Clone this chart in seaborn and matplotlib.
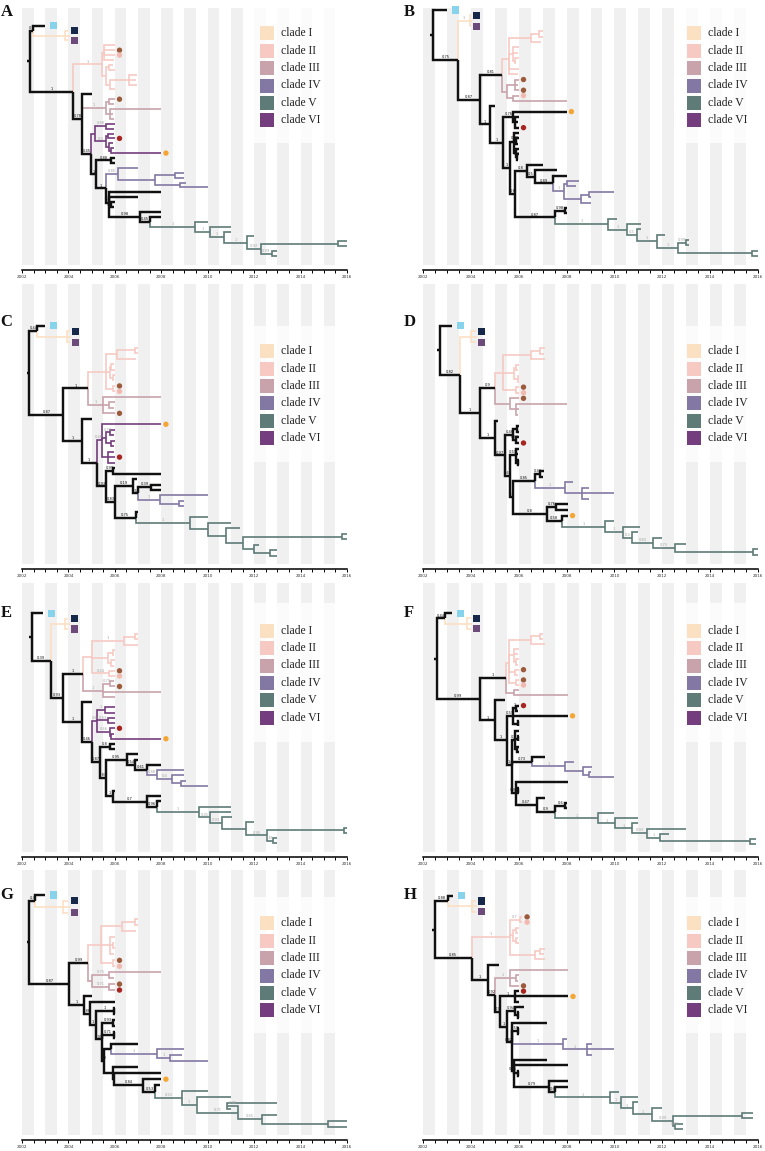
import re
import numpy as np
import pandas as pd
import seaborn as sns
import matplotlib.pyplot as plt
from matplotlib.patches import Rectangle

W, H = 765, 1151

# ---- data -------------------------------------------------------------
CLADE_KEYS = ['1', '2', '3', '4', '5', '6']
CLADE_LABELS = ['clade I', 'clade II', 'clade III', 'clade IV', 'clade V', 'clade VI']
CLADE_COLORS = ['#FCE0C2', '#F7C9C3', '#C9A3AB', '#8378A4', '#5E7B77', '#743D7D']
BACKBONE = '#111111'
MARKER_COLORS = {'sb': '#87D3EC', 'sn': '#16284A', 'sp': '#6C4B7B', 'br': '#9B5A3C',
                 'pk': '#F2B9B0', 'rd': '#A82421', 'or': '#F3A634'}
MARKER_SHAPE = {'sb': 'sq', 'sn': 'sq', 'sp': 'sq', 'br': 'dot', 'pk': 'dot', 'rd': 'dot', 'or': 'dot'}
MARKER_SHIFT = {'sb': 0.35, 'sn': 0.25, 'sp': 0.25, 'br': 0.2, 'pk': 0.2, 'rd': 0.2, 'or': 0.2}
YEARS = [2002, 2004, 2006, 2008, 2010, 2012, 2014, 2016]

# trees: node = (children)time@clade@support@marker ; clade inherited when empty
TREE_A = {
    'root': '({N1},{N2})2002.34@k',
    'N1': '(2003.0@@@sb,(2004.0@@@sn,2004.05,2004.0@@@sp)2003.85@1)2002.49@k@0.9',
    'N2': '({II},{N3})2004.21@k@1',
    'II': '((2006.0,2006.0@@@br,2006.0@@@pk,2005.95)2005.55,((2005.9,2006.0)2005.75,'
          '((2006.95,2006.9,2006.95)2006.6,2006.0)2005.8)2005.62)2005.43@2@1',
    'N3': '(2005.0,{III},{N4})2004.6@k@0.78',
    'III': '((2006.0@@@br,2005.95)2005.75,(2008.0,2005.9,2005.95)2005.8)2005.62@3@1',
    'N4': '({VI},{N5})2004.99@k@0.45',
    'VI': '((2006.0,2005.95)2005.6@@0.88,((2005.95,2006.0@@@rd)2005.7,'
          '(2005.9,(2005.95,2008.0@@@or)2005.85)2005.75)2005.62@@0.5)2005.15@6',
    'N5': '((2006.0,2006.0)2005.85@@0.88,{N7})2005.2@k@1',
    'N7': '({IV},{N8})2005.6@k@1',
    'IV': '(2007.0,((2009.0,2009.0)2008.6,(2009.05,2010.0)2008.8)2007.73)2006.15@4@0.85',
    'N8': '(2008.0,2007.0,(2006.0,2005.95)2005.85,{N10})2005.75@k@0.6',
    'N10': '(2008.0,(2008.0,{V})2007.52@@0.45)2007.1@k@0.98',
    'V': '(2010.0,(2011.0,(2011.0,(2012.0,((2016.0,2016.0)2015.63,(2013.0,2013.0)2012.76@@0.99)'
         '2012.29@@0.92)2011.71@@1)2010.68@@1)2010.1@@1)2009.46@5@1',
}

TREE_B = {
    'root': '(2003.0@k@@sb,{N1})2002.43@k',
    'N1': '((2004.0@@@sn,2004.05,2004.0@@@sp)2003.96@1@1,{N2})2003.48@k@0.75',
    'N2': '({N3},{N4})2004.38@k@0.87',
    'N3': '({II},{III})2005.29@k@0.81',
    'II': '(((2007.0,2007.0)2006.85,2006.95)2006.5,(2006.0,2005.95,(2006.0,2005.9)2005.85)2005.75,'
          '2006.0,2005.95)2005.6@2',
    'III': '((2006.0@@@br,2005.95,2006.0@@@br)2005.85,(2006.0@@@pk,2008.0)2005.75)2005.5@3',
    'N4': '(2005.0,{N5})2004.8@k@1',
    'N5': '({N6},{N7})2005.36@k@1',
    'N6': '(2008.0@@@or,(2006.0,2005.95,2006.0@@@rd)2005.84)2005.78@k@0.76',
    'N7': '({C1},{N8})2005.63@k@1',
    'C1': '(2006.0,(2006.0,2005.95)2005.9@@0.78,(2006.0,(2006.0,2005.97)2005.92@@0.7)2005.88)2005.8@k',
    'N8': '({X},{N9})2005.84@k@0.8',
    'X': '(2007.0,(2007.6,(2008.0,{IV})2007.45@@0.89)2006.68@@0.5)2006.33@k@0.8',
    'IV': '((2008.5,2008.4)2008.0,((2010.0,2009.0)2008.95,2009.0)2008.6)2007.9@4@1',
    'N9': '((2008.0,2008.0)2007.95@@0.98,{V})2007.5@k@0.87',
    'V': '(2010.1,(2011.1,(2011.1,(2012.1,((2013.1,2013.1)2013.0@@0.99,(2016.15,2016.15)2015.73)'
         '2012.67@@1)2011.76@@1)2010.93@@0.5)2010.54@@1)2009.74@5@1',
}

TREE_C = {
    'root': '({N1},{N2})2002.32@k',
    'N1': '(2003.0@@@sb,(2004.05@@@sn,2004.1,2004.05@@@sp)2003.95@1)2002.66@k@0.44',
    'N2': '({N3},{N4})2003.78@k@0.87',
    'N3': '({II},{III})2004.86@k@1',
    'II': '(((2007.0,2007.0)2006.85,2006.9)2006.1,((2005.95,2006.0)2005.85,(2006.0,2005.95)2005.9)2005.8,'
          '(2006.0@@@br,2006.0@@@pk)2005.9)2005.6@2',
    'III': '(2008.0,(2006.0,2005.95)2005.75,2006.0@@@br)2005.5@3@1',
    'N4': '(2005.0,{N5})2004.57@k@1',
    'N5': '({VI},{N6})2005.22@k@1',
    'VI': '(2008.0@@@or,((2006.0,2005.95)2005.8@@0.72,(2006.0,2005.95)2005.85)2005.6,'
          '(2005.95,2006.0@@@rd,2006.0)2005.72)2005.43@6@0.46',
    'N6': '((2006.0,2008.0)2005.94@@0.99,{N7})2005.62@k@0.93',
    'N7': '({Na},{Nb})2006.0@k@0.83',
    'Na': '(2006.97,((2008.0,2008.0)2007.55@@0.39,{IV})2007.0@@0.56)2006.77@@0.19',
    'IV': '(2010.0,(2009.0,2009.0)2008.75)2007.95@4@1',
    'Nb': '(2007.0,{V})2006.9@@0.75',
    'V': '(2010.0,(2011.0,(2011.4,((2016.0,2016.0)2015.78,(2012.2,(2013.0,2013.0)2012.7)2011.98)'
         '2011.54)2010.8)2010.03)2009.24@5@1',
}

TREE_D = {
    'root': '(2003.2@k@@sb,{N1})2002.71@k',
    'N1': '((2004.2@@@sn,2004.25,2004.2@@@sp)2004.0@1,{N2})2003.55@k@0.82',
    'N2': '({N3},{N4})2004.38@k@1',
    'N3': '({II},{III})2005.0@k@0.9',
    'II': '(((2007.1,2007.05)2006.9,2007.1)2006.5,((2006.0,2005.95)2005.9,(2006.0,2006.0)2005.95)2005.8,'
          '(2006.0@@@br,2006.0@@@pk)2005.9)2005.35@2',
    'III': '(2006.0@@@br,(2008.0,2006.0,2005.97)2005.9)2005.65@3',
    'N4': '(2005.15,{N5})2005.0@k@1',
    'N5': '({Nn},{N6})2005.43@k@0.97',
    'Nn': '((2006.0,2006.0)2005.92,(2006.0,2006.0@@@rd)2005.9@@0.93)2005.78@k@0.46',
    'N6': '((2006.0,2005.97,(2006.0,2006.0)2005.95)2005.88@@0.59,{Q})2005.64@k@0.64',
    'Q': '({M},{P})2005.77@k@0.9',
    'M': '((2007.05,2007.0)2006.9@@0.43,{IV})2006.68@@0.85',
    'IV': '(2008.25,(2008.95,2010.0,2008.95)2008.63)2007.93@4@1',
    'P': '((2008.07,2008.05)2007.55@@0.76,(2008.05@@@or,{V})2007.8@@0.58)2007.17@@0.8',
    'V': '(2010.0,(2011.05,(2011.0,(2012.0,(2013.0,(2016.0,2016.0)2015.8)2012.53@@0.73)2011.62@@0.83)'
         '2010.72@@0.4)2010.37@@1)2009.6@5@1',
}

TREE_E = {
    'root': '(2002.92@k@@sb,{N1})2002.42@k',
    'N1': '((2004.0@@@sn,2004.05,2004.0@@@sp)2003.85@1,{N2})2003.24@k@0.39',
    'N2': '({N3},{N4})2003.78@k@0.93',
    'N3': '({II},{III})2004.61@k@1',
    'II': '(((2007.0,2007.0)2006.85,2007.0)2006.4@@1,((2006.0,2005.95)2005.9,(2006.0,2005.95)2005.85)2005.7,'
          '(2006.0@@@br,2006.0@@@pk)2005.75@@0.44)2005.0@2',
    'III': '((2005.95,2006.0@@@br)2005.8@@0.79,2008.0,2006.0)2005.5@3@1',
    'N4': '(2005.0,{N5})2004.57@k@1',
    'N5': '({VI},{N6})2005.0@k@0.46',
    'VI': '((2006.0,2006.0)2005.58@@1,(2006.0,2006.0)2005.72@@0.93,'
          '(2006.0@@@rd,(2005.95,2008.0@@@or)2005.85)2005.79@@0.66)2005.22@6@0.6',
    'N6': '((2006.0,2006.0)2005.8@@0.8,{N7})2005.36@k@0.87',
    'N7': '({R},{T})2005.62@k@0.83',
    'R': '(2007.0,(2007.0,(2008.0,{IV})2007.37@@0.61)2006.87@@0.54)2006.51@@0.95',
    'IV': '(2009.0,(2009.0,(2009.05,2010.0)2008.85)2008.45@@0.4)2007.8@4@0.88',
    'T': '(2006.0,{S})2005.94@@1',
    'S': '(2008.0,(2008.0,{V})2007.8@@0.96)2007.37@@0.7',
    'V': '(2011.0,(2011.0,(2011.05,(2012.0,((2016.05,2016.05)2015.85,(2013.0,2013.0)2012.83@@0.85)'
         '2012.55@@0.95)2011.65)2010.6@@0.93)2010.1@@0.45)2009.64@5@1',
}

TREE_F = {
    'root': '({N0},{N1})2002.57@k',
    'N0': '(2003.2@@@sb,(2004.0@@@sn,2004.05,2004.0@@@sp)2003.82@1)2002.92@k@0.44',
    'N1': '({N2},{N3})2004.38@k@0.99',
    'N2': '({II},{III})2005.47@k@1',
    'II': '(((2007.0,2007.0)2006.9,2007.1)2006.5,(2006.0,2005.95,(2006.0,2005.95)2005.9)2005.8,'
          '(2006.0@@@br,2005.95)2005.85,(2006.0@@@br,2006.0@@@pk)2005.9)2005.6@2',
    'III': '(2006.0,2008.07)2005.8@3',
    'N3': '(2005.42,{N4})2005.0@k@1',
    'N4': '({Nn},{N5})2005.5@k@1',
    'Nn': '((2006.0@@@rd,2005.95)2005.88@@1,2008.05@@@or,(2006.0,2005.98)2005.95)2005.75@k@0.59',
    'N5': '({Cl},{M},{Q})2005.7@k@1',
    'Cl': '(2006.0,(2006.0,2005.98)2005.95,(2006.0,2006.0)2005.93)2005.85@@0.5',
    'M': '(2007.1,{IV})2006.55@@0.73',
    'IV': '(2008.3,(2009.05,(2009.0,2010.0)2008.95)2008.7)2007.93@4@1',
    'Q': '(2008.07,(2006.0,2006.0)2005.95,{Pb})2005.87@@0.97',
    'Pb': '(2007.1,{Pa})2006.75@@0.47',
    'Pa': '((2008.0,2008.0)2007.95@@0.6,{V})2007.52@@0.9',
    'V': '(2010.0,(2011.0,(2011.0,(2013.0,(2012.3,(2015.9,2015.9)2015.66)2011.9@@1)2011.35@@0.93)'
         '2010.75@@1)2010.02@@1)2009.33@5@1',
}

TREE_G = {
    'root': '({N0},{N1})2002.32@k',
    'N0': '(2003.0@@@sb,(2004.0@@@sn,2004.05,2004.0@@@sp)2003.78@1)2002.56@k@0.3',
    'N1': '({N2},{N3})2004.04@k@0.87',
    'N2': '({II},{III})2004.86@k@0.99',
    'II': '(((2007.0,2007.0)2006.85,2006.9)2006.3,(2006.0,(2005.95,2006.0)2005.9,2005.95)2005.8,'
          '(2006.0@@@br,2006.0@@@pk)2005.9)2005.4@2',
    'III': '((2008.0,2005.95)2005.75@@0.75,(2006.0@@@br,2006.0@@@rd)2005.75@@0.71)2005.0@3',
    'N3': '(2005.0,{N4})2004.67@k@1',
    'N4': '(2006.0,{N5})2004.92@k@0.88',
    'N5': '((2006.0,2006.0)2005.95@@1,{N6})2005.2@k@1',
    'N6': '((2006.0,2006.0)2005.93@@0.93,(2006.0,2006.0)2005.95@@0.71,{N7})2005.45@k@0.93',
    'N7': '((2007.0,{IV})2005.85,(2007.0,(2008.0,{W})2005.95)2005.9)2005.55@k@0.9',
    'IV': '(2009.0,(2008.9,2010.0)2008.38@@1)2007.8@4@1',
    'W': '(2008.0@@@or,(2007.95,{V})2007.75@@0.53)2007.23@@0.84',
    'V': '(2010.0,(2011.0,((2013.0,2011.0)2010.85@@0.85,(2013.0,(2016.0,2016.0)2015.2)2012.33@@0.65)'
         '2011.32@@0.71)2009.53@@1)2008.88@5@0.51',
}

TREE_H = {
    'root': '({N0},{N1})2002.5@k',
    'N0': '(2003.24@@@sb,(2004.2@@@sn,2004.25,2004.2@@@sp)2004.03@1)2003.06@k@0.88',
    'N1': '({II},{N2})2004.03@k@0.85',
    'II': '((2006.15@@@br,2006.15@@@pk)2006.05@@0.7,((2006.0,2005.95)2005.9,(2005.95,2006.0)2005.88)2005.75,'
          '((2007.1,2007.05)2006.9,2007.1)2006.68)2005.63@2@1',
    'N2': '(2005.19,{N3})2004.73@k@1',
    'N3': '({III},{N4})2005.0@k@0.92',
    'III': '(2008.07,(2006.0,2005.95)2005.9,2006.0@@@br)2005.63@3@1',
    'N4': '((2006.0@@@rd,2008.07@@@or,2006.0)2005.84@@1,{N5})2005.22@k@0.9',
    'N5': '((2006.2,(2006.0,2006.0)2005.95)2005.84@@0.94,{N6})2005.5@k@1',
    'N6': '(2007.17,(2006.0,2006.0)2005.95@@0.59,{IV},{Q})2005.7@k@0.82',
    'IV': '(2008.0,(2009.05,2010.0,2009.05)2008.84@@1)2007.86@4@1',
    'Q': '(2007.17,2008.07,(2006.0,2006.0)2005.95,{Pa})2005.8@@0.86',
    'Pa': '(2008.07,(2008.07,{V})2007.52@@0.6)2007.28@@0.79',
    'V': '(2010.2,(2011.0,(2011.0,(2012.0,((2015.8,2015.8)2015.32,(2012.88,2012.88)2012.55@@0.72)'
         '2012.46@@0.99)2011.55@@1)2010.79@@1)2010.26@@1)2009.81@5@1',
}

# panel letter, tree, column, row, first / last tip pixel row
PANELS = [
    ('A', TREE_A, 0, 0, 25.7, 256.0),
    ('B', TREE_B, 1, 0, 10.0, 256.0),
    ('C', TREE_C, 0, 1, 325.7, 555.7),
    ('D', TREE_D, 1, 1, 325.7, 554.7),
    ('E', TREE_E, 0, 2, 613.3, 843.3),
    ('F', TREE_F, 1, 2, 613.3, 844.0),
    ('G', TREE_G, 0, 3, 895.0, 1126.7),
    ('H', TREE_H, 1, 3, 895.7, 1129.0),
]

# ---- layout (pixels) --------------------------------------------------
COL_X = {0: (22, 347), 1: (423, 758)}
ROW_Y = {0: (8, 270), 1: (284, 569), 2: (583, 857), 3: (870, 1140)}
LEG_BOX_X = {0: (253, 348), 1: (680, 758)}
LEG_BOX_Y = {0: (8, 143), 1: (326, 462), 2: (603, 742), 3: (897, 1033)}
LEG_FIRST = {0: 33.3, 1: 351.3, 2: 630.7, 3: 923.3}
LEG_SQ_X = {0: 260, 1: 687}
LETTER_Y = {0: 11.5, 1: 322, 2: 613, 3: 895}
LETTER_X = {0: 0.5, 1: 404}


def expand(parts, key='root'):
    return re.sub(r'\{(\w+)\}', lambda m: expand(parts, m.group(1)), parts[key])


def build(parts):
    s = ''.join(expand(parts).split())
    pos = 0

    def node():
        nonlocal pos
        kids = []
        if s[pos] == '(':
            pos += 1
            kids.append(node())
            while s[pos] == ',':
                pos += 1
                kids.append(node())
            pos += 1
        start = pos
        while pos < len(s) and s[pos] not in ',()':
            pos += 1
        f = (s[start:pos].split('@') + ['', '', ''])[:4]
        return {'t': float(f[0]), 'clade': f[1], 'label': f[2], 'mark': f[3], 'kids': kids}

    root = node()
    leaves = []

    def place(n, clade):
        n['clade'] = n['clade'] or clade
        if n['kids']:
            for k in n['kids']:
                place(k, n['clade'])
            n['y'] = float(np.mean([k['y'] for k in n['kids']]))
        else:
            n['y'] = float(len(leaves))
            leaves.append(n)

    place(root, 'k')
    return root, len(leaves)


def collect(root):
    seg = [(0, root['t'] - 0.12, root['y'], 'k'), (0, root['t'], root['y'], 'k')]
    marks, labels = [], []
    eid = 0
    stack = [root]
    while stack:
        p = stack.pop()
        for c in p['kids']:
            eid += 1
            seg += [(eid, p['t'], p['y'], c['clade']), (eid, p['t'], c['y'], c['clade']),
                    (eid, c['t'], c['y'], c['clade'])]
            if c['label']:
                labels.append(((p['t'] + c['t']) / 2, c['y'], c['label'], c['clade']))
            if c['mark']:
                marks.append((c['t'] + MARKER_SHIFT[c['mark']], c['y'], c['mark'], MARKER_SHAPE[c['mark']]))
            stack.append(c)
    edges = pd.DataFrame(seg, columns=['edge', 'x', 'y', 'clade'])
    edges['weight'] = np.where(edges['clade'] == 'k', 'bold', 'thin')
    marks = pd.DataFrame(marks, columns=['x', 'y', 'mark', 'shape'])
    return edges, marks, labels


sns.set_theme(style='white')
plt.rcParams['font.family'] = ['DejaVu Sans']

fig = plt.figure(figsize=(W / 100, H / 100), dpi=100)
line_pal = dict(zip(CLADE_KEYS, CLADE_COLORS))
line_pal['k'] = BACKBONE


def fig_rect(x0, y0, x1, y1, **kw):
    return Rectangle((x0 / W, 1 - y1 / H), (x1 - x0) / W, (y1 - y0) / H,
                     transform=fig.transFigure, clip_on=False, **kw)


for letter, tree, col, row, t0, t1 in PANELS:
    x0, x1 = COL_X[col]
    top, bot = ROW_Y[row]
    ax = fig.add_axes([x0 / W, 1 - bot / H, (x1 - x0) / W, (bot - top) / H])

    root, n_leaves = build(tree)
    edges, marks, labels = collect(root)
    step = (t1 - t0) / (n_leaves - 1)

    # half-year background stripes
    gap = 5 / (bot - top)
    for k in range(0, 28, 2):
        ax.axvspan(2002 + k * 0.5, 2002.5 + k * 0.5, ymin=gap, ymax=1,
                   color='#F0F0F0', lw=0, zorder=0)

    # legend panel
    bx0, bx1 = LEG_BOX_X[col]
    by0, by1 = LEG_BOX_Y[row]
    ax.add_patch(fig_rect(bx0, by0, bx1, by1, facecolor='white', alpha=0.78, lw=0, zorder=1))
    for i, (lab, colr) in enumerate(zip(CLADE_LABELS, CLADE_COLORS)):
        cy = LEG_FIRST[row] + i * 17.4
        sx = LEG_SQ_X[col]
        ax.add_patch(fig_rect(sx, cy - 7, sx + 14, cy + 7, facecolor=colr, lw=0, zorder=6))
        ax.text((sx + 21) / W, 1 - cy / H, lab, transform=fig.transFigure,
                family='Liberation Serif', fontsize=8.4, color='#222222',
                ha='left', va='center', zorder=6)

    hue_order = [k for k in CLADE_KEYS if k in set(edges['clade'])] + ['k']
    sns.lineplot(data=edges, x='x', y='y', units='edge', estimator=None, sort=False,
                 hue='clade', hue_order=hue_order, palette=line_pal,
                 size='weight', sizes={'bold': 1.75, 'thin': 1.2},
                 legend=False, ax=ax, zorder=3, solid_capstyle='butt', solid_joinstyle='miter')

    mpal = {m: MARKER_COLORS[m] for m in marks['mark'].unique()}
    sns.scatterplot(data=marks, x='x', y='y', hue='mark', palette=mpal,
                    style='shape', markers={'sq': 's', 'dot': 'o'},
                    size='shape', sizes={'sq': 26, 'dot': 15},
                    linewidth=0, legend=False, ax=ax, zorder=5, clip_on=False)

    for lx, ly, txt, cl in labels:
        ax.text(lx, ly - 0.15, txt, fontsize=2.6, ha='center', va='bottom',
                color='#111111' if cl == 'k' else '#a5a5a5', zorder=4)

    ax.set_xlim(2002, 2016)
    ax.set_ylim((bot - t0) / step, (top - t0) / step)
    for sp in ['left', 'top', 'right']:
        ax.spines[sp].set_visible(False)
    ax.spines['bottom'].set_color('black')
    ax.spines['bottom'].set_linewidth(1.1)
    ax.set_xticks(YEARS)
    ax.set_xticklabels([str(y) for y in YEARS], fontsize=3, color='#333333')
    ax.set_xticks(np.arange(2002, 2016.01, 0.5), minor=True)
    ax.tick_params(axis='x', which='both', direction='out', length=2, width=0.7,
                   pad=1.5, color='black', bottom=True)
    ax.set_yticks([])
    ax.set_xlabel('')
    ax.set_ylabel('')

    fig.text(LETTER_X[col] / W, 1 - LETTER_Y[row] / H, letter, family='Liberation Serif',
             fontweight='bold', fontsize=12, ha='left', va='center', color='#111111')

fig.savefig('out.png', dpi=100, facecolor='white')
